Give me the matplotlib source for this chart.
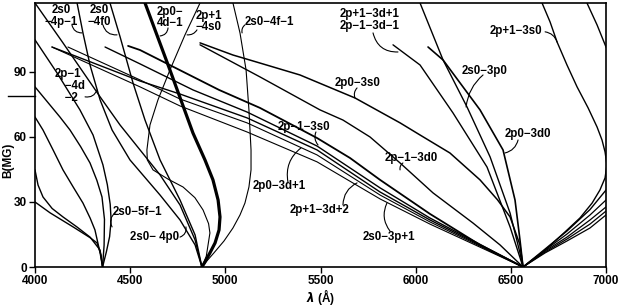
import matplotlib
matplotlib.use("Agg")
import matplotlib.pyplot as plt

plt.rcParams['font.family'] = ['Liberation Sans', 'DejaVu Sans']
plt.rcParams['font.weight'] = 'bold'

# ---------------- data (wavelength in Angstrom, B in MG) ----------------
# H-gamma group
lam_g1 = [4000, 4079, 4200, 4290, 4326, 4347, 4355]
b_g1 = [30, 25, 18.5, 13.5, 11.1, 5.5, 0]
lam_g2 = [4000, 4016, 4042, 4090, 4147, 4220, 4289, 4342, 4355]
b_g2 = [44.8, 37.8, 32.3, 27, 23.1, 18.5, 13.8, 7.8, 0]
lam_g3 = [4000, 4042, 4095, 4147, 4200, 4252, 4290, 4315, 4342, 4355]
b_g3 = [69.2, 63.2, 54, 44.8, 37, 29.5, 22.5, 17.1, 6.5, 0]
lam_g4 = [4000, 4131, 4184, 4240, 4289, 4325, 4352, 4365, 4363, 4355]
b_g4 = [83.1, 69.2, 63.2, 55.5, 48, 40, 32.3, 22, 10, 0]
lam_2s0_5f_1 = [4000, 4116, 4236, 4305, 4357, 4380, 4395, 4400, 4392, 4375, 4355]
b_2s0_5f_1 = [104.8, 89.5, 72.5, 60.9, 47.1, 38, 29, 21.7, 14, 7, 0]

# H-beta group
lam_h1 = [4000, 4147, 4342, 4447, 4552, 4657, 4762, 4841, 4877]
b_h1 = [121.8, 103.4, 78.5, 65.5, 54, 42.5, 28.6, 12.5, 0]
lam_2s0_4p_1 = [4221, 4252, 4289, 4342, 4405, 4499, 4657, 4762, 4841, 4877]
b_2s0_4p_1 = [121.8, 108, 93.2, 77.1, 63.2, 49.4, 33.2, 21.7, 10.2, 0]
lam_2s0_4f0 = [4394, 4447, 4515, 4578, 4657, 4762, 4841, 4877]
b_2s0_4f0 = [121.8, 106.2, 84.9, 67.8, 49.4, 30.9, 14.8, 0]
lam_2p1_4s0 = [4867, 4788, 4709, 4646, 4604, 4588, 4590, 4620, 4700, 4778, 4840, 4883, 4912, 4919, 4900, 4877]
b_2p1_4s0 = [121.8, 107.1, 90.9, 77.1, 65.5, 54, 49.4, 44.8, 40.5, 36.9, 32, 26.3, 20, 15.7, 5, 0]
lam_2p0_4d_1 = [4578, 4709, 4830, 4893, 4935, 4962, 4972, 4967, 4946, 4919, 4893, 4877]
b_2p0_4d_1 = [121.8, 90.9, 61.8, 49.4, 40.2, 30.9, 23.1, 17.1, 11.1, 6.5, 2.3, 0]
lam_2s0_4f_1 = [5040, 5077, 5109, 5124, 5135, 5135, 5124, 5103, 5077, 5040, 4993, 4940, 4898, 4877]
b_2s0_4f_1 = [121.8, 108, 90.9, 72.5, 54, 44.8, 36.9, 29.5, 24, 18, 12, 6.5, 2.3, 0]

# H-alpha group: long bundle
lam_b0 = [4089, 4552, 4762, 5114, 5482, 5813, 6075, 6564]
b_b0 = [101.5, 83.1, 74.3, 62.3, 48.5, 31.4, 19.8, 0]
lam_b1 = [4089, 4552, 4762, 5114, 5482, 5813, 6075, 6564]
b_b1 = [101.5, 85.8, 79.8, 68.8, 54, 34.6, 21.7, 0]
lam_b2 = [4173, 4552, 4762, 5114, 5482, 5813, 6075, 6564]
b_b2 = [101.5, 86.3, 77.5, 66.5, 51.7, 33.2, 20.8, 0]
lam_b3 = [4368, 4552, 4830, 5114, 5482, 5813, 6075, 6564]
b_b3 = [101.5, 93.7, 81.7, 71.5, 55.8, 36.5, 22.6, 0]
lam_b4 = [4489, 4552, 4967, 5182, 5482, 5655, 5813, 6075, 6338, 6564]
b_b4 = [102, 100.1, 81.7, 73.4, 59.5, 50.3, 40.2, 24.5, 10.2, 0]

lam_2p0_3s0 = [4867, 5040, 5182, 5392, 5681, 5918, 6023, 6180, 6338, 6430, 6496, 6548, 6564]
b_2p0_3s0 = [103.4, 97.8, 94.1, 88.6, 78, 66.5, 60.9, 52.6, 40.2, 31, 23.1, 10.2, 0]
lam_2p_1_3d0 = [4867, 5182, 5497, 5618, 5760, 5918, 6091, 6301, 6443, 6564]
b_2p_1_3d0 = [102.5, 87.7, 72.5, 67.8, 60, 48, 34.2, 20.3, 10.2, 0]
lam_2p1_3d1 = [5881, 6023, 6196, 6375, 6496, 6564]
b_2p1_3d1 = [102.5, 93.2, 71.1, 46.1, 18.5, 0]
lam_2s0_3p0 = [6023, 6144, 6270, 6391, 6496, 6548, 6564]
b_2s0_3p0 = [121.8, 95.5, 73.8, 50.8, 24.9, 6.5, 0]
lam_2p0_3d0 = [6065, 6144, 6338, 6459, 6522, 6548, 6564]
b_2p0_3d0 = [101.5, 95.5, 72.5, 54, 30.9, 12.5, 0]
lam_2p1_3s0 = [6664, 6706, 6743, 6795, 6848, 6906, 6953, 6979, 6995, 7005, 6995, 6968, 6927, 6863, 6785, 6680, 6564]
b_2p1_3s0 = [121.8, 113.1, 103.8, 93.2, 83.1, 73.4, 64.6, 58.6, 53.1, 47.1, 41.1, 35.5, 29.5, 22.6, 16.2, 7.8, 0]
lam_corner = [6900, 6953, 7000, 7021]
b_corner = [121.8, 111.7, 101.5, 97.8]

# right fan from H-alpha
lam_fan = [6564, 6680, 6795, 6916, 7000]
b_r0 = [0, 8.3, 16.6, 26.5, 35.5]
b_r1 = [0, 7.8, 15.2, 24, 30.9]
b_r2 = [0, 7.4, 13.8, 21.7, 27.7]
b_r3 = [0, 6.9, 12.9, 19.8, 25.8]
b_r4 = [0, 6.5, 12, 18, 24]

x_ticks = [4000, 4500, 5000, 5500, 6000, 6500, 7000]
y_ticks = [0, 30, 60, 90]

# labels: (text, lambda, B, ha)
labels = [
    ("2s0\n\u22124p\u22121", 4137, 115.8, 'center'),
    ("2s0\n\u22124f0", 4336, 115.8, 'center'),
    ("2p0\u2212\n4d\u22121", 4709, 115.1, 'center'),
    ("2p+1\n\u22124s0", 4914, 113.3, 'center'),
    ("2s0\u22124f\u22121", 5103, 113.1, 'left'),
    ("2p\u22121\n   \u22124d\n   \u22122", 4105, 83.5, 'left'),
    ("2s0\u22125f\u22121", 4410, 25.4, 'left'),
    ("2s0\u2212 4p0", 4499, 13.8, 'left'),
    ("2p0\u22123d+1", 5145, 37.4, 'left'),
    ("2p+1\u22123d+2", 5340, 26.3, 'left'),
    ("2s0\u22123p+1", 5723, 13.8, 'left'),
    ("2p\u22121\u22123s0", 5277, 64.4, 'left'),
    ("2p\u22121\u22123d0", 5839, 50.1, 'left'),
    ("2p0\u22123s0", 5576, 84.7, 'left'),
    ("2p+1\u22123d+1\n2p\u22121\u22123d\u22121", 5602, 114.0, 'left'),
    ("2s0\u22123p0", 6244, 90.5, 'left'),
    ("2p0\u22123d0", 6469, 61.4, 'left'),
    ("2p+1\u22123s0", 6391, 108.9, 'left'),
]
# leader lines: (from lambda, from B, to lambda, to B, curvature)
leaders = [
    (4194, 111.7, 4247, 108, 0.4),
    (4357, 111.7, 4431, 107.1, 0.4),
    (4699, 110.3, 4657, 106.6, -0.4),
    (4851, 109.4, 4799, 107.1, -0.3),
    (5103, 111.7, 5088, 108, 0.3),
    (4263, 78.5, 4326, 81.7, 0.4),
    (4420, 24.9, 4405, 18.5, 0.4),
    (4762, 13.8, 4793, 18.5, 0.4),
    (5329, 39.2, 5397, 54.9, -0.3),
    (5618, 28.6, 5692, 38.8, -0.3),
    (5865, 16.6, 5849, 29.5, -0.3),
    (5476, 62.3, 5487, 56.3, 0.3),
    (5933, 48, 5918, 44.8, 0.3),
    (5692, 82.6, 5681, 78, 0.3),
    (5776, 108, 5907, 99.2, 0.4),
    (6354, 88.6, 6265, 73.8, 0.2),
    (6538, 58.6, 6469, 52.6, -0.3),
    (6680, 108.5, 6743, 103.8, -0.3),
]

# ---------------- figure ----------------
fig = plt.figure(figsize=(6.24, 3.07), dpi=100)
ax = fig.add_axes([35 / 624, 1 - 267 / 307, 571 / 624, 264 / 307])

lw = 1.0
curves = [
    (lam_g1, b_g1, lw), (lam_g2, b_g2, lw), (lam_g3, b_g3, lw), (lam_g4, b_g4, lw),
    (lam_2s0_5f_1, b_2s0_5f_1, lw),
    (lam_h1, b_h1, lw), (lam_2s0_4p_1, b_2s0_4p_1, lw), (lam_2s0_4f0, b_2s0_4f0, lw),
    (lam_2p1_4s0, b_2p1_4s0, 0.8), (lam_2p0_4d_1, b_2p0_4d_1, 2.3),
    (lam_2s0_4f_1, b_2s0_4f_1, 0.8),
    (lam_b0, b_b0, 0.8), (lam_b1, b_b1, lw), (lam_b2, b_b2, 0.8), (lam_b3, b_b3, lw),
    (lam_b4, b_b4, 1.3),
    (lam_2p0_3s0, b_2p0_3s0, 1.1), (lam_2p_1_3d0, b_2p_1_3d0, lw),
    (lam_2p1_3d1, b_2p1_3d1, lw), (lam_2s0_3p0, b_2s0_3p0, lw),
    (lam_2p0_3d0, b_2p0_3d0, 1.2), (lam_2p1_3s0, b_2p1_3s0, lw),
    (lam_corner, b_corner, lw),
    (lam_fan, b_r0, lw), (lam_fan, b_r1, 0.9), (lam_fan, b_r2, 0.9),
    (lam_fan, b_r3, 0.9), (lam_fan, b_r4, 0.9),
]
for xs, ys, w in curves:
    ax.plot(xs, ys, color='black', lw=w, solid_capstyle='round',
            solid_joinstyle='round')

for txt, x, y, ha in labels:
    ax.text(x, y, txt, ha=ha, va='center', fontsize=8.3, fontweight='bold',
            linespacing=0.95, multialignment=ha)

for x0, y0, x1, y1, rad in leaders:
    ax.annotate('', xy=(x1, y1), xytext=(x0, y0),
                arrowprops=dict(arrowstyle='-', lw=0.8, color='black',
                                connectionstyle=f'arc3,rad={rad}',
                                shrinkA=0, shrinkB=0))

ax.set_xlim(4000, 7000)
ax.set_ylim(0, 121.8)
ax.set_xticks(x_ticks)
ax.set_yticks(y_ticks)
ax.tick_params(direction='out', length=4, width=1.0, pad=2, labelsize=8.5)
for lab in ax.get_xticklabels() + ax.get_yticklabels():
    lab.set_fontweight('bold')
for s in ax.spines.values():
    s.set_linewidth(1.2)

ax.set_ylabel('B(MG)', fontsize=8.5, fontweight='bold')
ax.yaxis.set_label_coords(-0.036, 0.405)
ax.set_xlabel('$\\lambda$ (\u00c5)', fontsize=8.5, fontweight='bold')
ax.xaxis.set_label_coords(0.5, -0.075)

# stray scan mark at left margin
ax.axhline(78.9, xmin=-0.047, xmax=0, color='black', lw=1.0, clip_on=False)

fig.savefig('out.png', dpi=100)
